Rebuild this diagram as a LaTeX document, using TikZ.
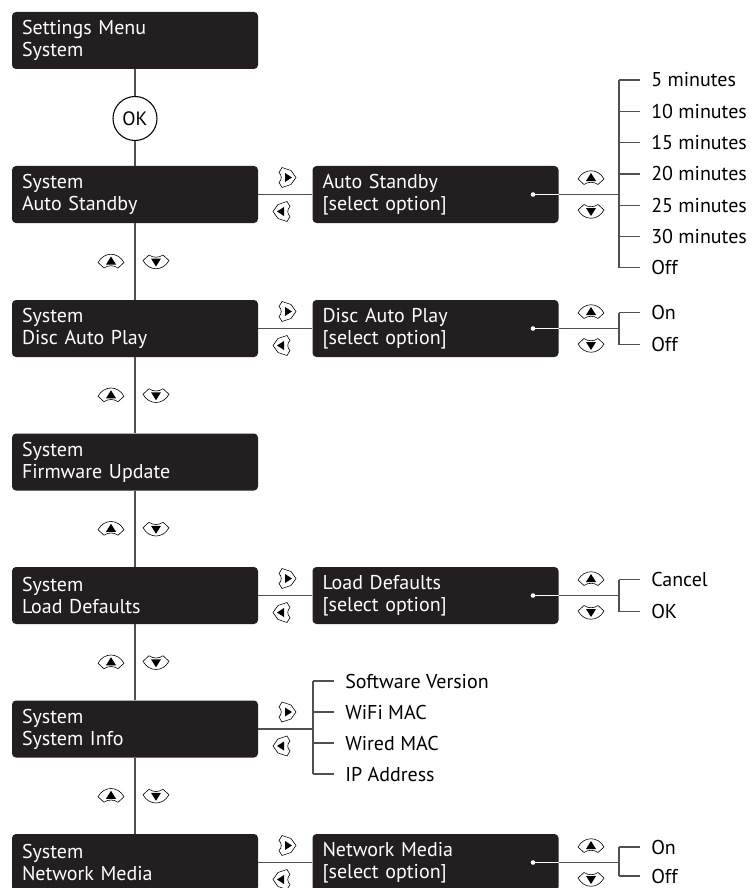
\documentclass[tikz,border=0pt]{standalone}
\usepackage{fontspec}
\setmainfont{PT Sans}
\definecolor{boxblk}{HTML}{231F20}
\definecolor{linegray}{HTML}{505050}
\tikzset{
  menubox/.style={fill=boxblk, text=white, rounded corners=3pt, minimum height=42.75pt, text width=169.5pt, inner xsep=7.5pt, inner ysep=0pt, align=left, font=\fontsize{15}{16.5}\selectfont},
  conn/.style={draw=linegray, line width=1.4pt},
  hconn/.style={draw=linegray, line width=1.1pt},
  brk/.style={draw=linegray, line width=1pt},
  opt/.style={anchor=west, inner xsep=8.25pt, inner ysep=0pt, text height=10.5pt, text depth=0pt, font=\fontsize{15}{17}\selectfont},
  okc/.style={circle, draw=black, line width=0.8pt, fill=white, minimum size=33pt, inner sep=0pt, font=\fontsize{14.5}{16}\selectfont},
  keyline/.style={draw=black, line width=0.45pt, fill=white},
  upkey/.pic={\path[keyline] (-13,1) .. controls (-7,-10) and (7,-10) .. (13,1) -- (7,6.5) .. controls (3,3.5) and (-3,3.5) .. (-7,6.5) -- cycle;
    \fill (0,-5) -- (5,3) -- (-5,3) -- cycle;},
  downkey/.pic={\path[keyline] (-13,-1) .. controls (-7,10) and (7,10) .. (13,-1) -- (7,-6.5) .. controls (3,-3.5) and (-3,-3.5) .. (-7,-6.5) -- cycle;
    \fill (0,5) -- (5,-3) -- (-5,-3) -- cycle;},
  rightkey/.pic={\path[keyline] (-5,-10) -- (4,-7) -- (9,0) -- (4,7) -- (-5,10) -- (-8,5) .. controls (-5,2) and (-5,-2) .. (-8,-5) -- cycle;
    \fill (5,0) -- (-2,-4.5) -- (-2,4.5) -- cycle;},
  leftkey/.pic={\path[keyline] (5,-10) -- (-4,-7) -- (-9,0) -- (-4,7) -- (5,10) -- (8,5) .. controls (5,2) and (5,-2) .. (8,-5) -- cycle;
    \fill (-5,0) -- (2,-4.5) -- (2,4.5) -- cycle;},
}
\begin{document}
\begin{tikzpicture}[x=0.75pt,y=-0.75pt]
\useasboundingbox (0,0) rectangle (754,888);
% left column boxes
\node[menubox] (b0) at (135,40.5) {Settings Menu\\System};
\node[okc] (ok) at (135,118.5) {OK};
\node[menubox] (b1) at (135,194.5) {System\\Auto Standby};
\node[menubox] (b2) at (135,328.5) {System\\Disc Auto Play};
\node[menubox] (b3) at (135,462) {System\\Firmware Update};
\node[menubox] (b4) at (135,595.5) {System\\Load Defaults};
\node[menubox] (b5) at (135,729) {System\\System Info};
\node[menubox] (b6) at (135,862.5) {System\\Network Media};
% right boxes
\node[menubox] (r1) at (435.5,194.5) {Auto Standby\\{}[select option]};
\node[menubox] (r2) at (435.5,328.5) {Disc Auto Play\\{}[select option]};
\node[menubox] (r4) at (435.5,595.5) {Load Defaults\\{}[select option]};
\node[menubox] (r6) at (435.5,862.5) {Network Media\\{}[select option]};
% vertical spine
\draw[conn] (b0) -- (ok);
\draw[conn] (ok) -- (b1);
\draw[conn] (b1) -- (b2);
\draw[conn] (b2) -- (b3);
\draw[conn] (b3) -- (b4);
\draw[conn] (b4) -- (b5);
\draw[conn] (b5) -- (b6);
% horizontal connectors
\draw[hconn] (b1) -- (r1);
\draw[hconn] (b2) -- (r2);
\draw[hconn] (b4) -- (r4);
\draw[hconn] (b6) -- (r6);
\coordinate (k5) at (313,729);
\draw[hconn] (b5) -- (k5);
% dots and brackets coordinates
\coordinate (d1) at (533,194.5); \coordinate (k1) at (619,194.5);
\coordinate (d2) at (533,328.5); \coordinate (k2) at (619,328.5);
\coordinate (d4) at (533,595.5); \coordinate (k4) at (619,595.5);
\coordinate (d6) at (533,862.5); \coordinate (k6) at (619,862.5);
\foreach \i in {1,2,4,6}{
  \draw[hconn] (r\i.east) -- (k\i);
  \draw[white, line width=1pt] (d\i) -- (r\i.east);
  \fill[white] (d\i) circle (2.3);
}
% options: Auto Standby
\node[opt] (o1a) at (640,80) {5 minutes};
\node[opt] (o1b) at (640,111.3) {10 minutes};
\node[opt] (o1c) at (640,142.6) {15 minutes};
\node[opt] (o1d) at (640,173.9) {20 minutes};
\node[opt] (o1e) at (640,205.2) {25 minutes};
\node[opt] (o1f) at (640,236.5) {30 minutes};
\node[opt] (o1g) at (640,267.8) {Off};
\draw[brk] (o1a.west -| k1) -- (o1g.west -| k1);
\foreach \n in {o1a,o1b,o1c,o1d,o1e,o1f,o1g}{\draw[brk] (\n.west -| k1) -- (\n.west);}
% Disc Auto Play
\node[opt] (o2a) at (640,312.5) {On};
\node[opt] (o2b) at (640,344.5) {Off};
\draw[brk] (o2a.west -| k2) -- (o2b.west -| k2);
\foreach \n in {o2a,o2b}{\draw[brk] (\n.west -| k2) -- (\n.west);}
% Load Defaults
\node[opt] (o4a) at (640,579.5) {Cancel};
\node[opt] (o4b) at (640,611.5) {OK};
\draw[brk] (o4a.west -| k4) -- (o4b.west -| k4);
\foreach \n in {o4a,o4b}{\draw[brk] (\n.west -| k4) -- (\n.west);}
% System Info
\node[opt] (o5a) at (334,681) {Software Version};
\node[opt] (o5b) at (334,712) {WiFi MAC};
\node[opt] (o5c) at (334,743) {Wired MAC};
\node[opt] (o5d) at (334,774) {IP Address};
\draw[brk] (o5a.west -| k5) -- (o5d.west -| k5);
\foreach \n in {o5a,o5b,o5c,o5d}{\draw[brk] (\n.west -| k5) -- (\n.west);}
% Network Media
\node[opt] (o6a) at (640,847) {On};
\node[opt] (o6b) at (640,876) {Off};
\draw[brk] (o6a.west -| k6) -- (o6b.west -| k6);
\foreach \n in {o6a,o6b}{\draw[brk] (\n.west -| k6) -- (\n.west);}
% up/down keys on spine
\foreach \y in {261.5,395.25,528.75,662.25,795.75}{
  \pic at (111,\y) {upkey};
  \pic at (156,\y) {downkey};
}
% left/right keys
\foreach \y in {194.5,328.5,595.5,729,862.5}{
  \pic at (287,\y-17) {rightkey};
  \pic at (282,\y+17) {leftkey};
}
% up/down keys on right
\foreach \y in {194.5,328.5,595.5,862.5}{
  \pic at (591,\y-16.5) {upkey};
  \pic at (591,\y+16.5) {downkey};
}
\end{tikzpicture}
\end{document}
